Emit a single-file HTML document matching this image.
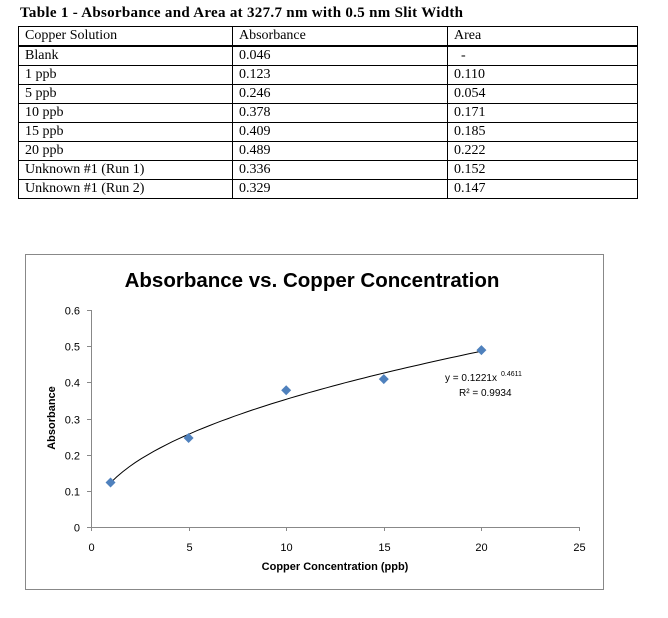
<!DOCTYPE html>
<html><head><meta charset="utf-8"><style>
body{margin:0;width:668px;height:618px;background:#fff;position:relative;overflow:hidden;font-family:"Liberation Serif",serif;}
#ttl{position:absolute;left:20px;top:5px;font-weight:bold;font-size:15px;letter-spacing:0.3px;}
table{position:absolute;left:18px;top:26px;border-collapse:collapse;font-size:14px;}
td{border:1px solid #000;height:18px;padding:0 0 0 6px;line-height:18px;}
tr.h td{border-bottom:2px solid #000;}
svg{position:absolute;left:0;top:0;}
</style></head><body>
<div id="ttl">Table 1 - Absorbance and Area at 327.7 nm with 0.5 nm Slit Width</div>
<table>
<tr class="h"><td style="width:207px">Copper Solution</td><td style="width:208px">Absorbance</td><td style="width:183px">Area</td></tr>
<tr><td>Blank</td><td>0.046</td><td>&nbsp;&nbsp;-</td></tr>
<tr><td>1 ppb</td><td>0.123</td><td>0.110</td></tr>
<tr><td>5 ppb</td><td>0.246</td><td>0.054</td></tr>
<tr><td>10 ppb</td><td>0.378</td><td>0.171</td></tr>
<tr><td>15 ppb</td><td>0.409</td><td>0.185</td></tr>
<tr><td>20 ppb</td><td>0.489</td><td>0.222</td></tr>
<tr><td>Unknown #1 (Run 1)</td><td>0.336</td><td>0.152</td></tr>
<tr><td>Unknown #1 (Run 2)</td><td>0.329</td><td>0.147</td></tr>
</table>
<svg id="c" width="668" height="618" font-family="Liberation Sans, sans-serif"></svg>
<script>
const xs=[1,5,10,15,20];
const ys=[0.123,0.246,0.378,0.409,0.489];
const xTicks=[0,5,10,15,20,25];
const yTicks=[0,0.1,0.2,0.3,0.4,0.5,0.6];
const fitA=0.1221, fitB=0.4611;
const X=v=>91+v*(579-91)/25, Y=v=>527-v*(527-310)/0.6;
const s=document.getElementById('c');const N='http://www.w3.org/2000/svg';
function mk(t,a,txt){const e=document.createElementNS(N,t);for(const k in a)e.setAttribute(k,a[k]);if(txt!=null)e.textContent=txt;s.appendChild(e);return e;}
let e;
e=mk('rect',{x:25.5,y:254.5,width:578,height:335,fill:'#fff',stroke:'#888'});


e=mk('text',{x:312,y:287,'text-anchor':'middle','font-size':20.5,'font-weight':'bold'},'Absorbance vs. Copper Concentration');


e=mk('line',{x1:91.5,y1:Y(0.6),x2:91.5,y2:527,stroke:'#888'});


e=mk('line',{x1:91,y1:527.5,x2:579,y2:527.5,stroke:'#888'});


yTicks.forEach(v=>{const y=Math.round(Y(v))+.5;
e=mk('line',{x1:87,y1:y,x2:91,y2:y,stroke:'#888'});


e=mk('text',{x:80,y:y+4,'text-anchor':'end','font-size':11},v===0?'0':v.toFixed(1));

});
xTicks.forEach(v=>{const x=Math.round(X(v))+.5;
e=mk('line',{x1:x,y1:527,x2:x,y2:531,stroke:'#888'});


e=mk('text',{x:x,y:551,'text-anchor':'middle','font-size':11},String(v));

});
e=mk('text',{x:335,y:570,'text-anchor':'middle','font-size':11,'font-weight':'bold'},'Copper Concentration (ppb)');


e=mk('text',{x:0,y:0,transform:'translate(55,418) rotate(-90)','text-anchor':'middle','font-size':11,'font-weight':'bold'},'Absorbance');


let d='';for(let i=0;i<=60;i++){const x=xs[0]+(xs[xs.length-1]-xs[0])*i/60;d+=(i?'L':'M')+X(x).toFixed(1)+','+Y(fitA*Math.pow(x,fitB)).toFixed(1);}
e=mk('path',{d:d,fill:'none',stroke:'#000','stroke-width':1});


xs.forEach((x,i)=>{const cx=X(x),cy=Y(ys[i]);
e=mk('path',{d:`M${cx},${cy-5}L${cx+5},${cy}L${cx},${cy+5}L${cx-5},${cy}Z`,fill:'#4f81bd'});

});
e=mk('text',{x:445,y:381,'font-size':10},'y = 0.1221x');


e=mk('text',{x:501,y:376,'font-size':7},'0.4611');


e=mk('text',{x:459,y:396,'font-size':10},'R² = 0.9934');


</script>
</body></html>
